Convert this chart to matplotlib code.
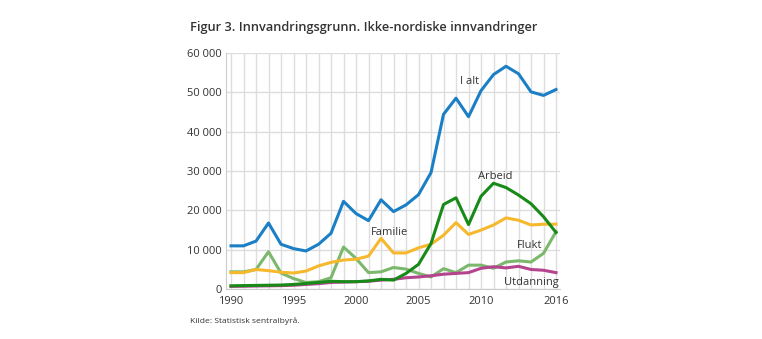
import matplotlib.pyplot as plt
from matplotlib.ticker import FuncFormatter

plt.rcParams['font.family'] = ['Open Sans', 'DejaVu Sans']

years = list(range(1990, 2017))

# verdier lest av figuren (antall innvandringer)
i_alt = [11000, 11000, 12200, 16800, 11400, 10300, 9700, 11400, 14200, 22300,
         19200, 17400, 22700, 19700, 21400, 24000, 29600, 44400, 48500, 43800,
         50400, 54500, 56600, 54700, 50100, 49200, 50700]
arbeid = [850, 900, 950, 1000, 1050, 1200, 1450, 1700, 2000, 1900,
          1900, 2100, 2500, 2300, 4000, 6300, 11600, 21500, 23200, 16400,
          23600, 26900, 25800, 23900, 21700, 18400, 14400]
familie = [4200, 4200, 5000, 4700, 4300, 4100, 4600, 5900, 6800, 7400,
           7600, 8400, 12900, 9200, 9200, 10500, 11400, 13700, 16900, 13900,
           15000, 16300, 18100, 17500, 16300, 16500, 16500]
flukt = [4400, 4400, 5000, 9500, 4100, 2700, 1700, 1900, 2900, 10700,
         7800, 4200, 4400, 5500, 5100, 4000, 3100, 5200, 4200, 6100,
         6100, 5300, 6900, 7200, 6900, 9100, 14600]
utdanning = [700, 750, 800, 850, 900, 1000, 1200, 1400, 1700, 1800,
             1900, 2000, 2300, 2500, 2900, 3100, 3400, 3800, 4000, 4200,
             5300, 5700, 5400, 5800, 5000, 4800, 4200]

fig = plt.figure(figsize=(7.62, 3.39), dpi=100)
ax = fig.add_axes([0.2966, 0.147, 0.438, 0.697])

ax.plot(years, flukt, color='#7cb86c', lw=2.2)
ax.plot(years, utdanning, color='#b5448f', lw=2.2)
ax.plot(years, familie, color='#f6b82c', lw=2.2)
ax.plot(years, arbeid, color='#188a18', lw=2.2)
ax.plot(years, i_alt, color='#1b7fc5', lw=2.2)

ax.set_xlim(1989.6, 2016.3)
ax.set_ylim(0, 60000)
ax.set_xticks([1990, 1995, 2000, 2005, 2010, 2016])
ax.set_xticks(years, minor=True)
ax.set_yticks(range(0, 60001, 10000))
ax.yaxis.set_major_formatter(FuncFormatter(lambda v, p: f'{int(v):,}'.replace(',', ' ')))
ax.grid(True, which='both', axis='x', color='#dddddd', lw=1)
ax.grid(True, which='major', axis='y', color='#dddddd', lw=1)
ax.set_axisbelow(True)
ax.tick_params(which='both', length=0, labelsize=8, colors='#333333', pad=3)
ax.tick_params(axis='x', pad=5)
for s in ['top', 'right']:
    ax.spines[s].set_visible(False)
for s in ['left', 'bottom']:
    ax.spines[s].set_color('#cccccc')

# etiketter
lbl = dict(fontsize=8, color='#333333', ha='center', va='center')
ax.text(2009.1, 52800, 'I alt', **lbl)
ax.text(2011.1, 28600, 'Arbeid', **lbl)
ax.text(2002.7, 14500, 'Familie', **lbl)
ax.text(2013.9, 11200, 'Flukt', **lbl)
ax.text(2014.0, 1800, 'Utdanning', **lbl)

fig.text(190 / 762, 1 - 28 / 339, 'Figur 3. Innvandringsgrunn. Ikke-nordiske innvandringer',
         fontsize=9.2, fontweight='semibold', color='#333333', va='center')
fig.text(190 / 762, 1 - 321 / 339, 'Kilde: Statistisk sentralbyrå.',
         fontsize=6.1, color='#333333', va='center')

fig.savefig('out.png', dpi=100)
